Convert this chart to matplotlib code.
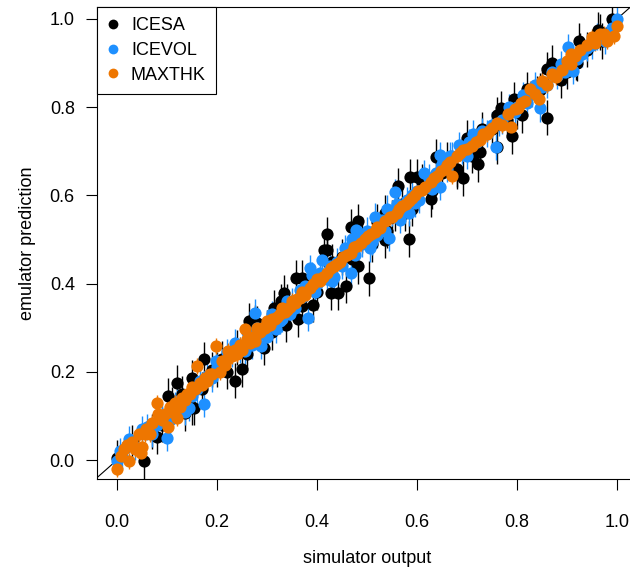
import numpy as np
import matplotlib
matplotlib.use("Agg")
import matplotlib.pyplot as plt

plt.rcParams['font.family'] = ['Liberation Sans', 'DejaVu Sans']

# simulator output vs emulator prediction, one array pair per output
icesa_x = [0.000, 0.054, 0.080, 0.102, 0.119, 0.136, 0.150, 0.154, 0.173, 0.150,
           0.200, 0.236, 0.249, 0.263, 0.276, 0.294, 0.300, 0.314, 0.328, 0.334,
           0.338, 0.358, 0.362, 0.369, 0.392, 0.413, 0.420, 0.420, 0.427, 0.442,
           0.450, 0.457, 0.468, 0.481, 0.481, 0.504, 0.536, 0.536, 0.550, 0.556,
           0.563, 0.577, 0.584, 0.587, 0.601, 0.628, 0.638, 0.650, 0.679, 0.693,
           0.722, 0.727, 0.750, 0.761, 0.761, 0.768, 0.790, 0.794, 0.809, 0.846,
           0.850, 0.860, 0.860, 0.887, 0.918, 0.920, 0.924, 0.925, 0.962, 0.965,
           0.990,
           0.030, 0.070, 0.090, 0.110, 0.130, 0.170, 0.190, 0.210, 0.220, 0.240,
           0.260, 0.280, 0.310, 0.340, 0.370, 0.380, 0.400, 0.430, 0.470, 0.490,
           0.510, 0.520, 0.540, 0.570, 0.590, 0.610, 0.630, 0.660, 0.680, 0.700,
           0.710, 0.730, 0.780, 0.800, 0.820, 0.840, 0.870, 0.900, 0.940, 0.970]
icesa_y = [0.005, -0.003, 0.053, 0.145, 0.175, 0.106, 0.120, 0.119, 0.228, 0.187,
           0.205, 0.180, 0.206, 0.315, 0.311, 0.255, 0.300, 0.345, 0.360, 0.379,
           0.307, 0.413, 0.319, 0.413, 0.352, 0.477, 0.512, 0.477, 0.379, 0.379,
           0.460, 0.395, 0.529, 0.541, 0.439, 0.412, 0.499, 0.560, 0.550, 0.560,
           0.621, 0.560, 0.501, 0.642, 0.642, 0.592, 0.688, 0.650, 0.654, 0.639,
           0.671, 0.699, 0.750, 0.782, 0.710, 0.797, 0.734, 0.818, 0.782, 0.838,
           0.850, 0.776, 0.886, 0.861, 0.902, 0.900, 0.951, 0.928, 0.975, 0.970,
           1.000,
           0.040, 0.065, 0.080, 0.125, 0.150, 0.160, 0.205, 0.230, 0.200, 0.255,
           0.240, 0.310, 0.290, 0.360, 0.350, 0.400, 0.380, 0.450, 0.455, 0.510,
           0.490, 0.540, 0.520, 0.580, 0.570, 0.630, 0.610, 0.680, 0.660, 0.730,
           0.690, 0.750, 0.770, 0.790, 0.840, 0.830, 0.900, 0.880, 0.930, 0.950]

icevol_x = [0.000, 0.010, 0.024, 0.050, 0.080, 0.099, 0.120, 0.136, 0.143, 0.160,
            0.174, 0.180, 0.198, 0.210, 0.230, 0.236, 0.256, 0.260, 0.276, 0.287,
            0.300, 0.317, 0.330, 0.350, 0.365, 0.370, 0.382, 0.386, 0.400, 0.410,
            0.420, 0.433, 0.440, 0.460, 0.468, 0.478, 0.490, 0.515, 0.520, 0.543,
            0.550, 0.556, 0.567, 0.580, 0.597, 0.600, 0.614, 0.620, 0.638, 0.645,
            0.645, 0.660, 0.683, 0.690, 0.713, 0.720, 0.740, 0.758, 0.770, 0.800,
            0.812, 0.830, 0.846, 0.850, 0.880, 0.887, 0.901, 0.911, 0.930, 0.960,
            0.976, 1.000,
            0.005, 0.035, 0.060, 0.070, 0.090, 0.105, 0.115, 0.150, 0.165, 0.190,
            0.200, 0.220, 0.245, 0.270, 0.280, 0.295, 0.310, 0.325, 0.340, 0.355,
            0.375, 0.395, 0.405, 0.425, 0.450, 0.455, 0.475, 0.485, 0.500, 0.510,
            0.530, 0.535, 0.560, 0.575, 0.590, 0.605, 0.625, 0.630, 0.650, 0.670,
            0.700, 0.705, 0.730, 0.750, 0.765, 0.785, 0.795, 0.820, 0.835, 0.860,
            0.870, 0.895, 0.920, 0.940, 0.950, 0.990,
            0.260, 0.300, 0.345, 0.390, 0.430, 0.470, 0.505, 0.540, 0.585, 0.665]
icevol_y = [-0.002, 0.010, 0.047, 0.070, 0.080, 0.050, 0.130, 0.110, 0.119, 0.160,
            0.127, 0.190, 0.224, 0.220, 0.240, 0.266, 0.247, 0.270, 0.334, 0.258,
            0.310, 0.296, 0.320, 0.360, 0.386, 0.370, 0.322, 0.435, 0.400, 0.454,
            0.410, 0.416, 0.450, 0.470, 0.424, 0.522, 0.490, 0.552, 0.510, 0.503,
            0.560, 0.608, 0.544, 0.590, 0.582, 0.610, 0.650, 0.620, 0.650, 0.620,
            0.691, 0.660, 0.714, 0.700, 0.740, 0.720, 0.740, 0.710, 0.770, 0.800,
            0.827, 0.830, 0.797, 0.846, 0.870, 0.898, 0.936, 0.883, 0.920, 0.960,
            0.951, 1.000,
            0.020, 0.030, 0.075, 0.060, 0.100, 0.090, 0.125, 0.145, 0.180, 0.185,
            0.210, 0.245, 0.250, 0.260, 0.300, 0.290, 0.330, 0.315, 0.360, 0.345,
            0.395, 0.380, 0.425, 0.440, 0.440, 0.480, 0.465, 0.505, 0.520, 0.495,
            0.545, 0.520, 0.580, 0.565, 0.600, 0.590, 0.640, 0.615, 0.670, 0.690,
            0.690, 0.720, 0.745, 0.760, 0.765, 0.800, 0.790, 0.810, 0.850, 0.850,
            0.880, 0.880, 0.910, 0.935, 0.940, 0.980,
            0.290, 0.280, 0.330, 0.420, 0.405, 0.500, 0.480, 0.570, 0.560, 0.690]

maxthk_x = [0.000, 0.014, 0.024, 0.030, 0.044, 0.048, 0.049, 0.058, 0.065, 0.079,
            0.082, 0.090, 0.102, 0.110, 0.119, 0.125, 0.135, 0.145, 0.155, 0.160,
            0.170, 0.180, 0.190, 0.198, 0.205, 0.215, 0.222, 0.230, 0.240, 0.250,
            0.256, 0.265, 0.275, 0.285, 0.295, 0.305, 0.315, 0.325, 0.335, 0.345,
            0.355, 0.365, 0.375, 0.392, 0.405, 0.420, 0.433, 0.445, 0.460, 0.474,
            0.488, 0.502, 0.515, 0.525, 0.536, 0.550, 0.560, 0.570, 0.585, 0.597,
            0.610, 0.628, 0.640, 0.655, 0.666, 0.669, 0.680, 0.693, 0.710, 0.727,
            0.740, 0.751, 0.771, 0.782, 0.788, 0.802, 0.815, 0.826, 0.843, 0.860,
            0.877, 0.890, 0.908, 0.908, 0.925, 0.939, 0.949, 0.973, 0.980, 0.993,
            1.000,
            0.008, 0.020, 0.036, 0.055, 0.070, 0.085, 0.095, 0.105, 0.115, 0.130,
            0.140, 0.150, 0.165, 0.175, 0.185, 0.210, 0.220, 0.235, 0.245, 0.260,
            0.270, 0.280, 0.290, 0.300, 0.310, 0.320, 0.330, 0.340, 0.350, 0.360,
            0.370, 0.385, 0.400, 0.412, 0.427, 0.440, 0.452, 0.467, 0.480, 0.495,
            0.508, 0.520, 0.545, 0.565, 0.578, 0.590, 0.603, 0.617, 0.635, 0.648,
            0.660, 0.685, 0.700, 0.718, 0.733, 0.745, 0.760, 0.795, 0.808, 0.835,
            0.850, 0.870, 0.900, 0.915, 0.955, 0.965]
maxthk_y = [-0.020, 0.025, -0.002, 0.040, 0.059, 0.017, 0.030, 0.070, 0.060, 0.129,
            0.104, 0.090, 0.074, 0.110, 0.096, 0.120, 0.135, 0.150, 0.160, 0.213,
            0.170, 0.180, 0.195, 0.258, 0.200, 0.215, 0.247, 0.235, 0.240, 0.250,
            0.296, 0.265, 0.270, 0.290, 0.300, 0.305, 0.320, 0.330, 0.335, 0.348,
            0.355, 0.367, 0.375, 0.398, 0.405, 0.425, 0.439, 0.450, 0.465, 0.484,
            0.492, 0.507, 0.518, 0.525, 0.541, 0.552, 0.560, 0.575, 0.588, 0.601,
            0.612, 0.631, 0.645, 0.660, 0.676, 0.644, 0.690, 0.703, 0.712, 0.725,
            0.740, 0.752, 0.759, 0.785, 0.755, 0.797, 0.815, 0.842, 0.819, 0.850,
            0.868, 0.885, 0.898, 0.921, 0.930, 0.940, 0.960, 0.966, 0.950, 0.962,
            0.985,
            0.010, 0.035, 0.025, 0.060, 0.085, 0.095, 0.105, 0.120, 0.130, 0.140,
            0.150, 0.165, 0.175, 0.185, 0.195, 0.225, 0.230, 0.250, 0.260, 0.275,
            0.280, 0.300, 0.300, 0.315, 0.320, 0.325, 0.345, 0.340, 0.360, 0.365,
            0.380, 0.390, 0.410, 0.415, 0.435, 0.445, 0.460, 0.470, 0.485, 0.500,
            0.512, 0.528, 0.550, 0.570, 0.580, 0.595, 0.610, 0.620, 0.640, 0.655,
            0.668, 0.695, 0.705, 0.722, 0.738, 0.745, 0.765, 0.795, 0.810, 0.830,
            0.860, 0.875, 0.905, 0.915, 0.945, 0.965]

names = ['ICESA', 'ICEVOL', 'MAXTHK']
cols = ['black', '#1E90FF', '#EE7600']
half_width = [0.04, 0.03, 0.018]  # emulator uncertainty

fig = plt.figure(figsize=(6.3, 5.69), dpi=100)
ax = fig.add_axes([97/630, 90/569, 540/630, 472/569])

series = [(icesa_x, icesa_y), (icevol_x, icevol_y), (maxthk_x, maxthk_y)]
for (x, y), c, hw, nm in zip(series, cols, half_width, names):
    x = np.array(x)
    y = np.array(y)
    ax.vlines(x, y - hw, y + hw, color=c, linewidth=1.0, zorder=2)
    ax.plot(x, y, 'o', color=c, markersize=8.8, markeredgewidth=0, zorder=3, label=nm)

ax.plot([-1, 2], [-1, 2], color='black', linewidth=0.8, zorder=1)

ax.set_xlim(-0.04, 1.04)
ax.set_ylim(-0.043, 1.027)
ax.set_xticks([0.0, 0.2, 0.4, 0.6, 0.8, 1.0])
ax.set_yticks([0.0, 0.2, 0.4, 0.6, 0.8, 1.0])
ax.set_xticklabels(['0.0', '0.2', '0.4', '0.6', '0.8', '1.0'])
ax.set_yticklabels(['0.0', '0.2', '0.4', '0.6', '0.8', '1.0'])
ax.tick_params(axis='x', length=8, width=0.8, pad=17, labelsize=13)
ax.tick_params(axis='y', length=8, width=0.8, pad=8, labelsize=13)
for s in ax.spines.values():
    s.set_linewidth(0.8)

ax.set_xlabel('simulator output', fontsize=13, labelpad=14)
ax.set_ylabel('emulator prediction', fontsize=13, labelpad=10)

leg = ax.legend(loc='upper left', borderaxespad=0, fancybox=False, framealpha=1,
                edgecolor='black', fontsize=13, handlelength=0.6, handletextpad=0.7,
                labelspacing=0.42, borderpad=0.58, markerscale=0.8)
leg.get_frame().set_linewidth(0.8)

fig.savefig('out.png', dpi=100)
